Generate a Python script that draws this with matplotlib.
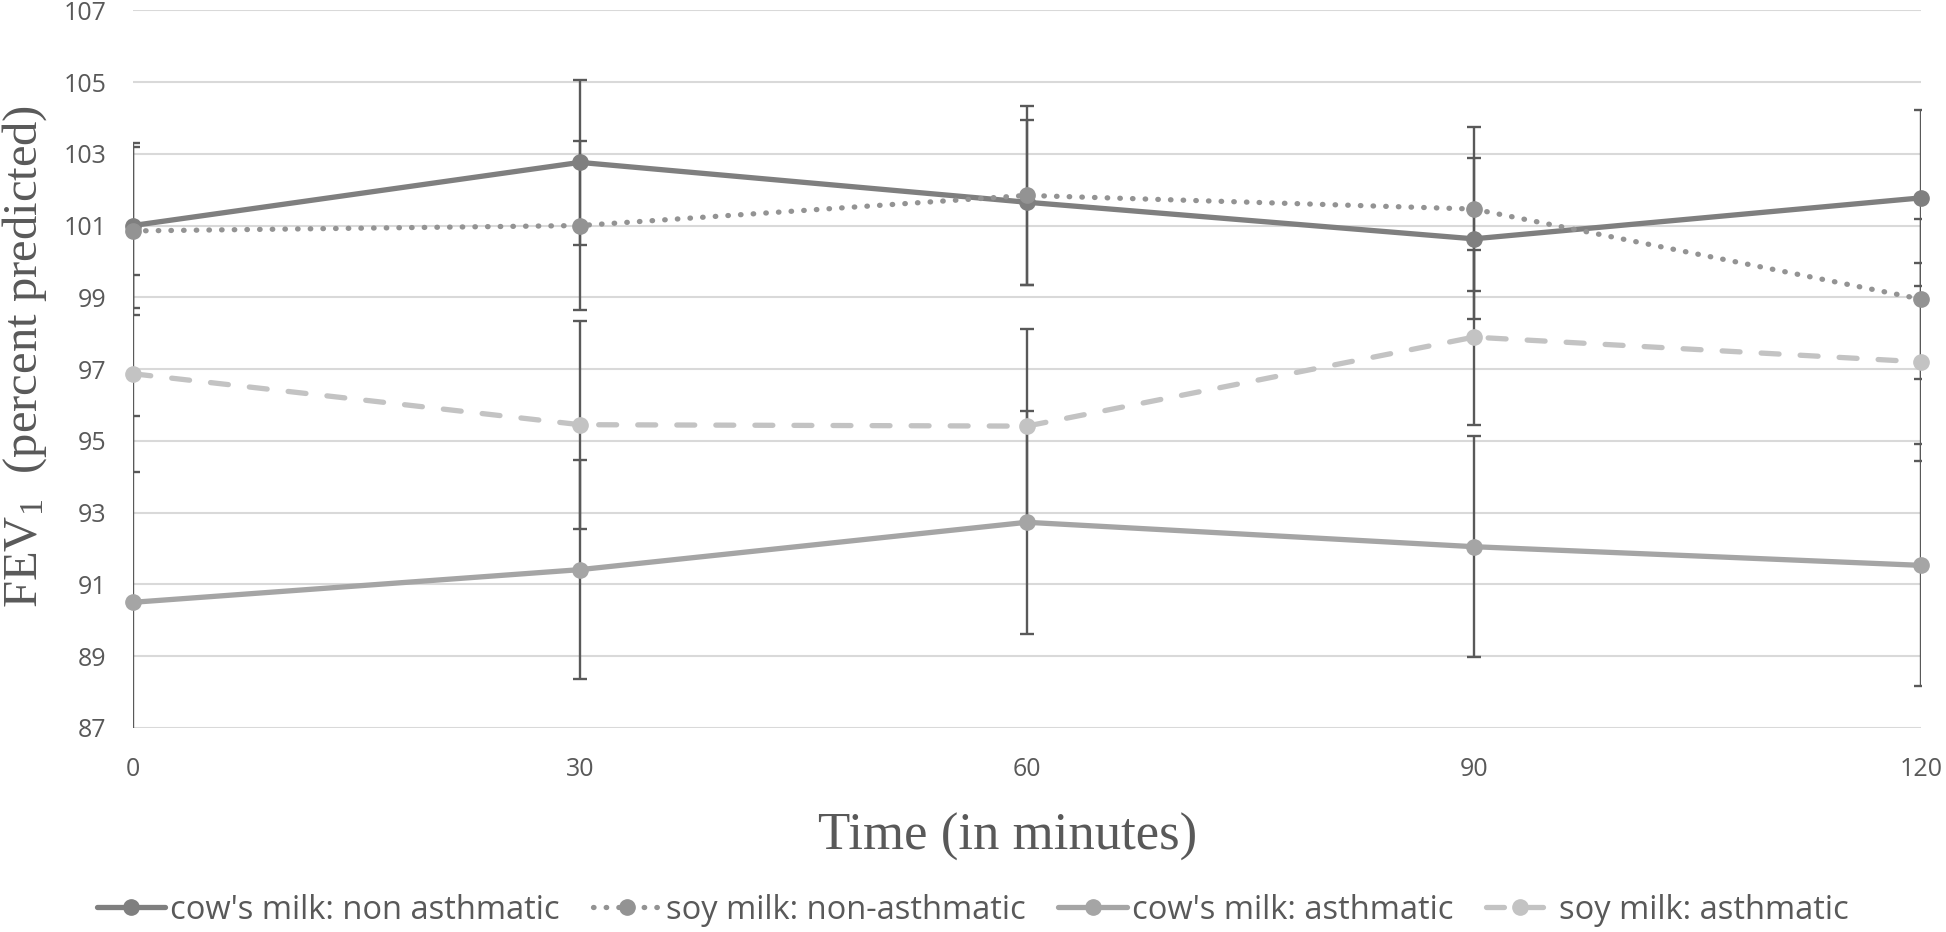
# FEV1 over time, cow's milk vs soy milk
import matplotlib.pyplot as plt

plt.rcParams['mathtext.fontset'] = 'custom'
plt.rcParams['mathtext.rm'] = 'Liberation Serif'
plt.rcParams['mathtext.it'] = 'Liberation Serif:italic'

# --- data ---
times = [0, 30, 60, 90, 120]
cow_na = [101.0, 102.76, 101.65, 100.63, 101.77]
cow_na_err = [2.3, 2.31, 2.3, 2.24, 2.45]
soy_na = [100.85, 101.0, 101.84, 101.46, 98.95]
soy_na_err = [2.33, 2.35, 2.5, 2.28, 2.23]
cow_a = [90.5, 91.41, 92.73, 92.05, 91.53]
cow_a_err = [5.2, 3.05, 3.1, 3.08, 3.37]
soy_a = [96.87, 95.45, 95.41, 97.89, 97.2]
soy_a_err = [2.75, 2.9, 2.7, 2.44, 2.76]

labels = ["cow's milk: non asthmatic", "soy milk: non-asthmatic",
          "cow's milk: asthmatic", "soy milk: asthmatic"]
yticks = list(range(87, 108, 2))
xticks = [0, 30, 60, 90, 120]

series = [
    (cow_na, cow_na_err, "#7f7f7f", "-"),
    (soy_na, soy_na_err, "#939393", (0, (0.1, 2.3))),
    (cow_a, cow_a_err, "#a5a5a5", "-"),
    (soy_a, soy_a_err, "#c3c3c3", (0, (3.4, 4.0))),
]

fig = plt.figure(figsize=(19.46, 9.32), dpi=100)
ax = fig.add_axes([0.0683, 0.219, 0.9187, 0.770])

for (vals, err, col, ls), lab in zip(series, labels):
    ax.errorbar(times, vals, yerr=err, fmt="none", ecolor="#595959",
                elinewidth=1.7, capsize=5, capthick=1.7, zorder=2)
    ax.plot(times, vals, color=col, linestyle=ls, linewidth=3.8,
            marker="o", markersize=11, solid_capstyle="round",
            dash_capstyle="round", label=lab, clip_on=False, zorder=3)

ax.set_xlim(0, 120)
ax.set_ylim(87, 107)
ax.set_xticks(xticks)
ax.set_yticks(yticks)
ax.grid(axis="y", color="#d9d9d9", linewidth=1.5, zorder=0)
ax.set_axisbelow(True)
for s in ax.spines.values():
    s.set_visible(False)
ax.tick_params(length=0, labelsize=18, labelcolor="#595959")
ax.tick_params(axis="x", pad=21)
ax.tick_params(axis="y", pad=19)
for t in ax.get_xticklabels() + ax.get_yticklabels():
    t.set_fontfamily("Open Sans")

ax.set_xlabel("Time (in minutes)", family="Liberation Serif", fontsize=38,
              color="#595959")
ax.set_ylabel("FEV$_1$  (percent predicted)", family="Liberation Serif",
              fontsize=35, color="#595959")
ax.xaxis.set_label_coords(0.489, -0.118)
ax.yaxis.set_label_coords(-0.047, 0.518)

fig.legend(loc="lower center", bbox_to_anchor=(0.5, -0.026), ncol=4,
           frameon=False, prop={"family": "Open Sans", "size": 23.5},
           labelcolor="#595959", handlelength=2.1, handletextpad=0.15,
           columnspacing=1.0)

plt.savefig("out.png", dpi=100)
